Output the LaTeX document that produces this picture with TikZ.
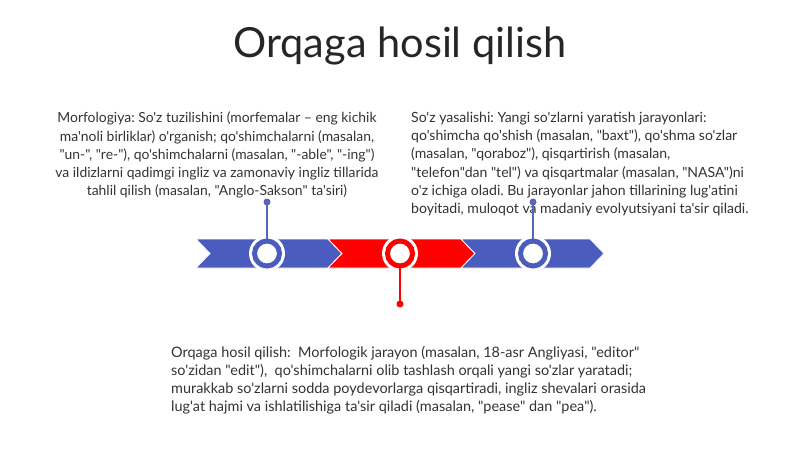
\documentclass[tikz,border=0pt]{standalone}
\usepackage{fontspec}
\setmainfont{Lato}[Ligatures=TeXOff]
\frenchspacing
\definecolor{cblue}{HTML}{4A5CBD}
\definecolor{cred}{HTML}{FF0000}
\definecolor{lblue}{HTML}{5567B4}
\definecolor{ink}{HTML}{333333}
\definecolor{tink}{HTML}{262626}
\tikzset{
  chev/.style={draw=white, line width=0.8pt},
  ring/.style={circle, minimum size=25pt, inner sep=0pt, fill=white, line width=5pt},
  halo/.style={circle, minimum size=36pt, inner sep=0pt, fill=white},
  dot/.style={circle, minimum size=7pt, inner sep=0pt},
  stem/.style={line width=1.6pt},
  body/.style={text=ink, inner sep=0pt},
}
\begin{document}
\begin{tikzpicture}[x=1pt,y=-1pt]
\useasboundingbox (0,0) rectangle (800,449);
\fill[white] (0,0) rectangle (800,449);
% title
\node[font=\fontsize{41.5}{48}\selectfont, text=tink, inner sep=0pt] (title) at (400,46) {Orqaga hosil qilish};
% text blocks
\node[body, font=\fontsize{13.9}{18.2}\selectfont, align=center, anchor=north] (t1) at (217,112) {Morfologiya: So'z tuzilishini (morfemalar – eng kichik\\ma'noli birliklar) o'rganish; qo'shimchalarni (masalan,\\"un-", "re-"), qo'shimchalarni (masalan, "-able", "-ing")\\va ildizlarni qadimgi ingliz va zamonaviy ingliz tillarida\\tahlil qilish (masalan, "Anglo-Sakson" ta'siri)};
\node[body, font=\fontsize{14.05}{18.2}\selectfont, align=left, anchor=north west] (t2) at (411,112) {So'z yasalishi: Yangi so'zlarni yaratish jarayonlari:\\qo'shimcha qo'shish (masalan, "baxt"), qo'shma so'zlar\\(masalan, "qoraboz"), qisqartirish (masalan,\\"telefon"dan "tel") va qisqartmalar (masalan, "NASA")ni\\o'z ichiga oladi. Bu jarayonlar jahon tillarining lug'atini\\boyitadi, muloqot va madaniy evolyutsiyani ta'sir qiladi.};
\node[body, font=\fontsize{14.45}{18}\selectfont, align=left, anchor=north west] (t3) at (171,346) {Orqaga hosil qilish:\ \ Morfologik jarayon (masalan, 18-asr Angliyasi, "editor"\\so'zidan "edit"),\ \ qo'shimchalarni olib tashlash orqali yangi so'zlar yaratadi;\\murakkab so'zlarni sodda poydevorlarga qisqartiradi, ingliz shevalari orasida\\lug'at hajmi va ishlatilishiga ta'sir qiladi (masalan, "pease" dan "pea").};
% chevrons
\fill[cblue, chev] (196,239) -- (328,239) -- (342,253.5) -- (328,268) -- (196,268) -- (210,253.5) -- cycle;
\fill[cred, chev] (328,239) -- (461,239) -- (475,253.5) -- (461,268) -- (328,268) -- (342,253.5) -- cycle;
\fill[cblue, chev] (461,239) -- (590,239) -- (604,253.5) -- (590,268) -- (461,268) -- (475,253.5) -- cycle;
% dots
\node[dot, fill=lblue] (d1) at (267,202) {};
\node[dot, fill=cred] (d2) at (400,304) {};
\node[dot, fill=lblue] (d3) at (533,202) {};
% halos and rings
\node[halo] (h1) at (267,253.5) {};
\node[halo] (h2) at (400,253.5) {};
\node[halo] (h3) at (533,253.5) {};
\draw[stem, lblue] (h1.center) -- (d1.center);
\draw[stem, cred] (h2.center) -- (d2.center);
\draw[stem, lblue] (h3.center) -- (d3.center);
\node[ring, draw=cblue] (c1) at (h1) {};
\node[ring, draw=cred] (c2) at (h2) {};
\node[ring, draw=cblue] (c3) at (h3) {};
\end{tikzpicture}
\end{document}
